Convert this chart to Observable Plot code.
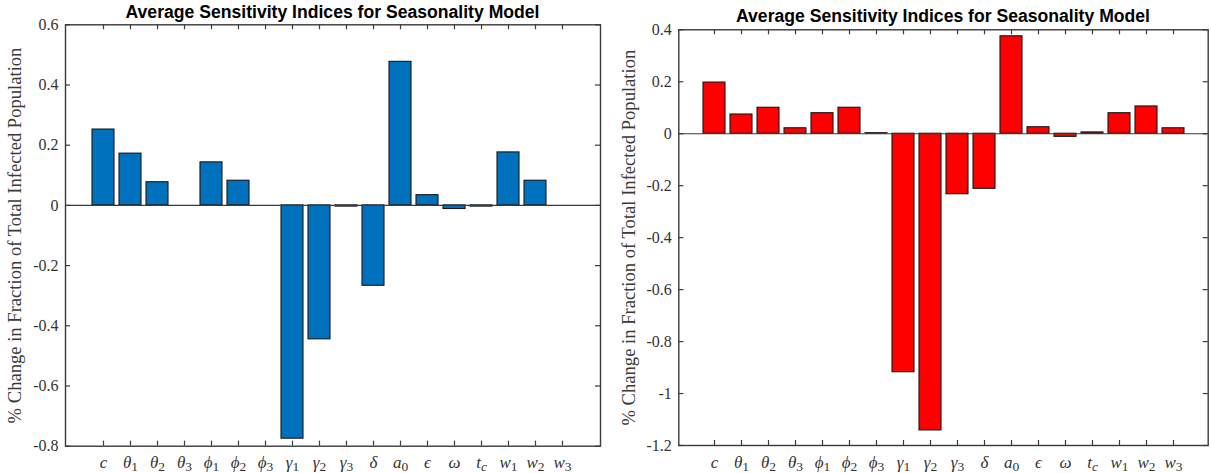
<!DOCTYPE html>
<html>
<head>
<meta charset="utf-8">
<script src="https://cdn.jsdelivr.net/npm/d3@7"></script>
<script src="https://cdn.jsdelivr.net/npm/@observablehq/plot@0.6"></script>
<style>
  body { margin: 0; background: #fff; }
  #wrap { position: relative; width: 1211px; height: 473px; overflow: hidden; background: #fff; }
  .panel { position: absolute; top: 0; }
  .title {
    position: absolute; z-index: 2; white-space: nowrap; text-align: center;
    font: bold 17.6px "Liberation Sans", Arial, sans-serif; line-height: 18px; color: #000;
  }
</style>
</head>
<body>
<div id="wrap"></div>
<script>
// Model parameters (x categories); trailing digit / letter is drawn as a subscript
const params = ["c", "θ1", "θ2", "θ3", "ϕ1", "ϕ2", "ϕ3", "γ1", "γ2", "γ3", "δ", "a0", "ϵ", "ω", "tc", "w1", "w2", "w3"];

// Average sensitivity indices, first run (blue) and second run (red)
const indicesBlue = [0.252, 0.172, 0.077, 0, 0.143, 0.082, 0, -0.775, -0.445, -0.004, -0.267, 0.477, 0.034, -0.012, -0.004, 0.176, 0.082, 0];
const indicesRed = [0.197, 0.074, 0.100, 0.021, 0.079, 0.100, 0.002, -0.918, -1.142, -0.233, -0.212, 0.375, 0.025, -0.012, 0.005, 0.079, 0.105, 0.021];

// y tick values of each panel
const yTicksBlue = [0.6, 0.4, 0.2, 0, -0.2, -0.4, -0.6, -0.8];
const yTicksRed = [0.4, 0.2, 0, -0.2, -0.4, -0.6, -0.8, -1, -1.2];

const chartTitle = "Average Sensitivity Indices for Seasonality Model";
const yLabel = "% Change in Fraction of Total Infected Population";

const serif = '"Liberation Serif", "Times New Roman", Times, serif';
const axisColor = "#3a3a3a";
const H = 473;

function drawPanel({values, color, domain, ticks, left, width, m, titleTop}) {
  const data = params.map((p, i) => ({param: p, value: values[i]}));
  const innerW = width - m.left - m.right;
  const innerH = H - m.top - m.bottom;

  const chart = Plot.plot({
    width, height: H,
    marginLeft: m.left, marginRight: m.right, marginTop: m.top, marginBottom: m.bottom,
    style: {fontFamily: serif, background: "transparent", overflow: "visible", color: "#333"},
    x: {domain: params, paddingInner: 0.2, paddingOuter: 0.82, axis: null},
    y: {domain, axis: null},
    marks: [
      Plot.barY(data, {x: "param", y: "value", fill: color, stroke: "#161616", strokeWidth: 1.1}),
      Plot.ruleY([0], {stroke: axisColor, strokeWidth: 1.2}),
      // inward ticks on all four sides of the box
      Plot.ruleX(params, {x: d => d, insetTop: innerH - 5, stroke: axisColor, strokeWidth: 1.2}),
      Plot.ruleX(params, {x: d => d, insetBottom: innerH - 5, stroke: axisColor, strokeWidth: 1.2}),
      Plot.ruleY(ticks, {y: d => d, insetRight: innerW - 5, stroke: axisColor, strokeWidth: 1.2}),
      Plot.ruleY(ticks, {y: d => d, insetLeft: innerW - 5, stroke: axisColor, strokeWidth: 1.2}),
      Plot.frame({stroke: axisColor, strokeWidth: 1.4}),
      Plot.axisY({ticks, tickSize: 0, tickPadding: 7, tickFormat: d => String(d), fontSize: 16, label: null}),
      Plot.axisX({tickSize: 0, tickPadding: 10, fontSize: 17, label: null}),
      Plot.text([yLabel], {frameAnchor: "left", textAnchor: "middle", rotate: -90, dx: -50, fontSize: 18.6, fill: "#3a3a3a"})
    ]
  });

  // subscripted parameter names
  chart.querySelectorAll('g[aria-label="x-axis tick label"] text').forEach(t => {
    const s = t.textContent;
    const base = s[0], sub = s.slice(1);
    t.textContent = "";
    const b = document.createElementNS("http://www.w3.org/2000/svg", "tspan");
    b.textContent = base;
    b.setAttribute("font-style", "italic");
    t.appendChild(b);
    if (sub) {
      const u = document.createElementNS("http://www.w3.org/2000/svg", "tspan");
      u.textContent = sub;
      u.setAttribute("dy", "3");
      u.setAttribute("font-size", "13.5");
      u.setAttribute("font-style", /\d/.test(sub) ? "normal" : "italic");
      t.appendChild(u);
    }
  });

  const holder = document.createElement("div");
  holder.className = "panel";
  holder.style.left = left + "px";
  holder.appendChild(chart);
  document.getElementById("wrap").appendChild(holder);

  const title = document.createElement("div");
  title.className = "title";
  title.textContent = chartTitle;
  title.style.left = (left + m.left) + "px";
  title.style.width = innerW + "px";
  title.style.top = titleTop + "px";
  document.getElementById("wrap").appendChild(title);
}

drawPanel({
  values: indicesBlue, color: "#0072BD", domain: [-0.8, 0.6], ticks: yTicksBlue,
  left: 0, width: 605, m: {left: 65, right: 5, top: 24.3, bottom: 27.3}, titleTop: 3
});
drawPanel({
  values: indicesRed, color: "#FF0000", domain: [-1.2, 0.4], ticks: yTicksRed,
  left: 605, width: 606, m: {left: 73.3, right: 3.3, top: 29.3, bottom: 28}, titleTop: 6.5
});
</script>
</body>
</html>
